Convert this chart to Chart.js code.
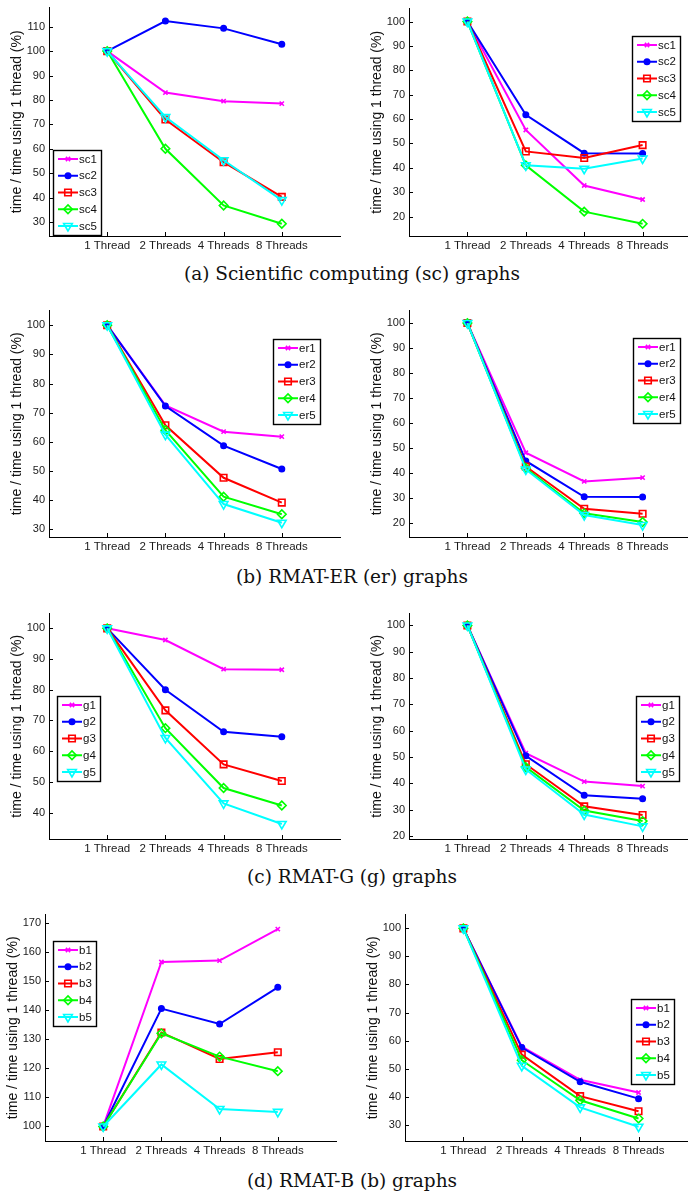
<!DOCTYPE html>
<html>
<head>
<meta charset="utf-8">
<script src="https://cdn.jsdelivr.net/npm/chart.js@4.4.1/dist/chart.umd.min.js"></script>
<style>
body { margin: 0; background: #fff; width: 694px; height: 1192px; position: relative; overflow: hidden; }
canvas { position: absolute; }
.cap { position: absolute; left: 0; width: 704px; text-align: center; font-family: "DejaVu Serif", serif; font-size: 18.5px; line-height: 20px; color: #111; }
</style>
</head>
<body>
<div class="cap" style="top:264px">(a) Scientific computing (sc) graphs</div>
<div class="cap" style="top:567px">(b) RMAT-ER (er) graphs</div>
<div class="cap" style="top:867px">(c) RMAT-G (g) graphs</div>
<div class="cap" style="top:1171px">(d) RMAT-B (b) graphs</div>
<script>
// categories
const threadLabels = ["1 Thread", "2 Threads", "4 Threads", "8 Threads"];
const threadPos = [1, 2, 3, 4];

// series names
const scNames = ["sc1", "sc2", "sc3", "sc4", "sc5"];
const erNames = ["er1", "er2", "er3", "er4", "er5"];
const gNames = ["g1", "g2", "g3", "g4", "g5"];
const bNames = ["b1", "b2", "b3", "b4", "b5"];

// values, one row per series
const scLeft = [
    [100, 83, 79.5, 78.5],
    [100, 112.3, 109.3, 102.8],
    [100, 72, 54.5, 40.3],
    [100, 60, 36.8, 29.3],
    [100, 73, 55.3, 39]
];
const scRight = [
    [100, 55.5, 32.7, 27],
    [100, 61.7, 46, 45.8],
    [100, 46.7, 44, 49.3],
    [100, 41, 22, 17],
    [100, 41, 39.6, 43.8]
];
const erLeft = [
    [100, 72.5, 63.5, 61.8],
    [100, 72.3, 58.7, 50.7],
    [100, 65.7, 47.7, 39.2],
    [100, 64, 41.2, 35.2],
    [100, 62.5, 38.7, 32.3]
];
const erRight = [
    [100, 48, 36.5, 38],
    [100, 44.7, 30.3, 30.2],
    [100, 42.5, 25.5, 23.5],
    [100, 41.8, 23.7, 20.2],
    [100, 41.3, 23, 19]
];
const gLeft = [
    [100, 96.2, 86.7, 86.5],
    [100, 80, 66.3, 64.7],
    [100, 73.3, 55.7, 50.3],
    [100, 67.5, 48, 42.3],
    [100, 64.3, 43, 36.3]
];
const gRight = [
    [100, 51.5, 40.7, 39],
    [100, 50.5, 35.5, 34.2],
    [100, 47.3, 31.3, 28],
    [100, 46.2, 29.7, 25.7],
    [100, 45.3, 28.2, 23.7]
];
const bLeft = [
    [100, 156.5, 157, 167.8],
    [100, 140.5, 135.2, 147.8],
    [100, 132.3, 123.2, 125.5],
    [100, 132, 124, 119],
    [100, 121.3, 106, 105]
];
const bRight = [
    [100, 57.8, 46, 41.5],
    [100, 57.5, 45.3, 39.3],
    [100, 55, 40.2, 34.8],
    [100, 53, 38.7, 32.2],
    [100, 51, 36.2, 29.3]
];

const yTitle = "time / time using 1 thread (%)";

const colors = ["#ff00ff", "#0000ff", "#ff0000", "#00ff00", "#00ffff"];
const markers = [
    { pointStyle: "crossRot", radius: 3, rotation: 0, fill: true },
    { pointStyle: "circle", radius: 2.7, rotation: 0, fill: true },
    { pointStyle: "rect", radius: 4.6, rotation: 0, fill: false },
    { pointStyle: "rectRot", radius: 4.3, rotation: 0, fill: false },
    { pointStyle: "triangle", radius: 5, rotation: 180, fill: false }
];

// panel layout: plot rectangle on the page, axis ranges, legend offset
const panels = [
    { names: scNames, values: scLeft, l: 49, t: 5, r: 340, b: 236, yMin: 24.3, yMax: 117.8, xMax: 5, leg: [4, 142] },
    { names: scNames, values: scRight, l: 409, t: 6, r: 687, b: 236, yMin: 12, yMax: 105.3, xMax: 4.76, leg: [223, 27] },
    { names: erNames, values: erLeft, l: 49, t: 308, r: 340, b: 537, yMin: 27.4, yMax: 105, xMax: 5, leg: [224, 28] },
    { names: erNames, values: erRight, l: 409, t: 308, r: 687, b: 537, yMin: 14.2, yMax: 105, xMax: 4.76, leg: [224, 27] },
    { names: gNames, values: gLeft, l: 49, t: 611, r: 340, b: 839, yMin: 31.4, yMax: 104.8, xMax: 5, leg: [8, 82] },
    { names: gNames, values: gRight, l: 409, t: 611, r: 687, b: 839, yMin: 18.9, yMax: 104.5, xMax: 4.76, leg: [227, 82] },
    { names: bNames, values: bLeft, l: 45, t: 912, r: 336, b: 1141, yMin: 95, yMax: 172.8, xMax: 5, leg: [8, 26] },
    { names: bNames, values: bRight, l: 405, t: 912, r: 687, b: 1141, yMin: 24.2, yMax: 104.9, xMax: 4.83, leg: [226, 84] }
];

const AXIS_W = 48, AXIS_H = 24, PAD_T = 8, PAD_R = 8;
const sans = "'Liberation Sans', Arial, sans-serif";

const innerTicks = {
    id: "innerTicks",
    beforeDatasetsDraw(chart) {
        const { ctx, chartArea: a, scales: { x, y } } = chart;
        ctx.save();
        ctx.strokeStyle = "#000";
        ctx.lineWidth = 1;
        ctx.beginPath();
        y.ticks.forEach(t => {
            const py = Math.round(y.getPixelForValue(t.value)) + 0.5;
            ctx.moveTo(a.left, py);
            ctx.lineTo(a.left + 4, py);
        });
        threadPos.forEach(v => {
            const px = Math.round(x.getPixelForValue(v)) + 0.5;
            ctx.moveTo(px, a.bottom);
            ctx.lineTo(px, a.bottom - 4);
        });
        ctx.stroke();
        ctx.restore();
    }
};

const insetLegend = {
    id: "insetLegend",
    afterDraw(chart, args, opts) {
        const { ctx, chartArea: a } = chart;
        const x0 = Math.round(a.left + opts.dx), y0 = Math.round(a.top + opts.dy);
        ctx.save();
        ctx.font = "11.5px " + sans;
        const sets = chart.data.datasets;
        const tw = Math.max(...sets.map(d => ctx.measureText(d.label).width));
        const w = Math.round(5 + 20 + 1 + tw + 4), h = 85;
        ctx.fillStyle = "#fff";
        ctx.fillRect(x0, y0, w, h);
        ctx.strokeStyle = "#000";
        ctx.lineWidth = 1.4;
        ctx.strokeRect(x0 + 0.5, y0 + 0.5, w, h);
        sets.forEach((d, i) => {
            const yy = y0 + 9 + i * 16.75;
            ctx.strokeStyle = d.borderColor;
            ctx.lineWidth = 2;
            ctx.beginPath();
            ctx.moveTo(x0 + 5, yy);
            ctx.lineTo(x0 + 25, yy);
            ctx.stroke();
            ctx.fillStyle = d.pointBackgroundColor;
            ctx.lineWidth = d.pointBorderWidth;
            Chart.helpers.drawPoint(ctx, {
                pointStyle: d.pointStyle, radius: d.pointRadius,
                rotation: d.pointRotation, borderWidth: d.pointBorderWidth
            }, x0 + 15, yy);
            ctx.fillStyle = "#111";
            ctx.textBaseline = "middle";
            ctx.fillText(d.label, x0 + 26, yy + 0.5);
        });
        ctx.restore();
    }
};

panels.forEach(p => {
    const cv = document.createElement("canvas");
    const W = (p.r - p.l) + AXIS_W + PAD_R;
    const H = (p.b - p.t) + PAD_T + AXIS_H;
    cv.width = W;
    cv.height = H;
    cv.style.left = (p.l - AXIS_W) + "px";
    cv.style.top = (p.t - PAD_T) + "px";
    cv.style.width = W + "px";
    cv.style.height = H + "px";
    document.body.appendChild(cv);

    const datasets = p.names.map((name, i) => ({
        label: name,
        data: p.values[i].map((v, j) => ({ x: threadPos[j], y: v })),
        borderColor: colors[i],
        borderWidth: 2,
        pointStyle: markers[i].pointStyle,
        pointRadius: markers[i].radius,
        pointRotation: markers[i].rotation,
        pointBorderWidth: 1.6,
        pointBorderColor: colors[i],
        pointBackgroundColor: markers[i].fill ? colors[i] : "rgba(0,0,0,0)",
        tension: 0,
        order: p.names.length - 1 - i
    }));

    new Chart(cv.getContext("2d"), {
        type: "line",
        data: { datasets },
        options: {
            responsive: false,
            animation: false,
            events: [],
            layout: { padding: { top: PAD_T, right: PAD_R, left: 0, bottom: 0 } },
            plugins: {
                legend: { display: false },
                tooltip: { enabled: false },
                insetLegend: { dx: p.leg[0], dy: p.leg[1] }
            },
            scales: {
                x: {
                    type: "linear",
                    min: 0,
                    max: p.xMax,
                    afterFit: s => { s.height = AXIS_H; },
                    grid: { display: false, drawTicks: false },
                    border: { display: true, color: "#000", width: 1 },
                    ticks: {
                        stepSize: 1,
                        includeBounds: false,
                        autoSkip: false,
                        maxRotation: 0,
                        padding: 3,
                        color: "#1a1a1a",
                        font: { family: sans, size: 11.5 },
                        callback: v => {
                            const k = threadPos.indexOf(v);
                            return k >= 0 ? threadLabels[k] : "";
                        }
                    }
                },
                y: {
                    min: p.yMin,
                    max: p.yMax,
                    afterFit: s => { s.width = AXIS_W; },
                    grid: { display: false, drawTicks: false },
                    border: { display: true, color: "#000", width: 1 },
                    ticks: {
                        stepSize: 10,
                        includeBounds: false,
                        padding: 4,
                        color: "#1a1a1a",
                        font: { family: sans, size: 11 }
                    },
                    title: {
                        display: true,
                        text: yTitle,
                        color: "#111",
                        font: { family: sans, size: 14 },
                        padding: { top: 8, bottom: 0 }
                    }
                }
            }
        },
        plugins: [innerTicks, insetLegend]
    });
});
</script>
</body>
</html>
